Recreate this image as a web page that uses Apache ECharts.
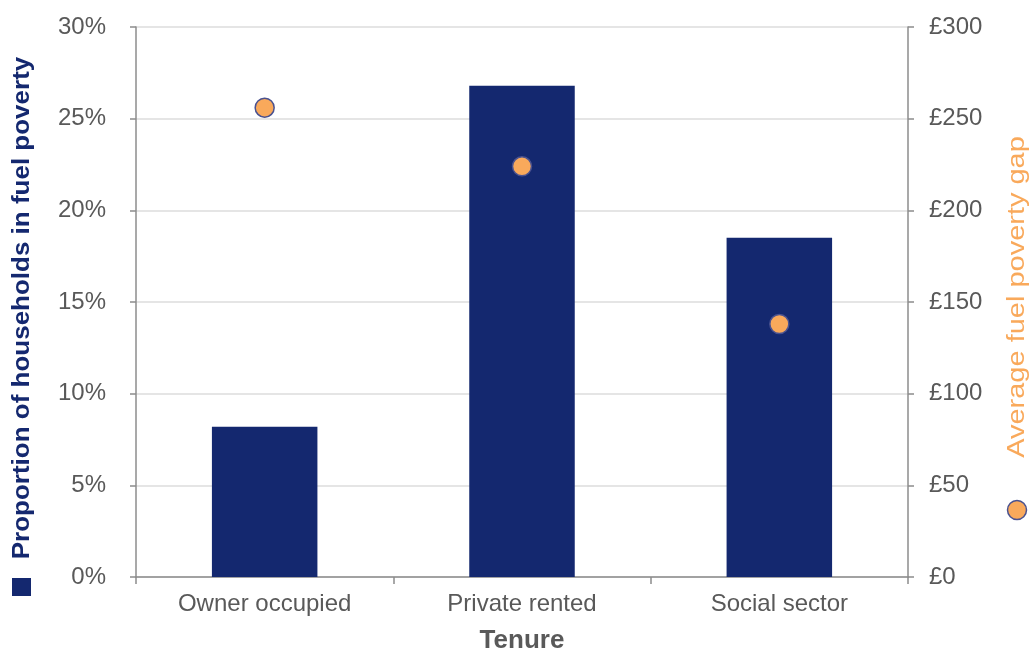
<!DOCTYPE html>
<html>
<head>
<meta charset="utf-8">
<script src="https://cdn.jsdelivr.net/npm/echarts@6/dist/echarts.min.js"></script>
<style>
  html, body { margin: 0; padding: 0; background: #fff; }
  #chart { width: 1030px; height: 652px; }
</style>
</head>
<body>
<div id="chart"></div>
<script>
// Fuel poverty by tenure
const categories = ['Owner occupied', 'Private rented', 'Social sector'];
const shareInFuelPoverty = [8.2, 26.8, 18.5];      // % of households
const averageGap = [256, 224, 138];                  // £ per household
const leftTicks = ['0%', '5%', '10%', '15%', '20%', '25%', '30%'];
const rightTicks = ['£0', '£50', '£100', '£150', '£200', '£250', '£300'];

const NAVY = '#14286f';
const ORANGE = '#f9a95b';
const GREY_TEXT = '#595959';
const AXIS_LINE = '#8c8c8c';
const FONT = 'Liberation Sans, Arial, sans-serif';

const chart = echarts.init(document.getElementById('chart'));

chart.setOption({
  animation: false,
  backgroundColor: '#fff',
  grid: { left: 136, right: 122, top: 27, bottom: 75, containLabel: false, outerBoundsMode: 'none' },
  xAxis: {
    type: 'category',
    data: categories,
    axisLine: { lineStyle: { color: AXIS_LINE, width: 1.5 } },
    axisTick: { show: true, length: 7, lineStyle: { color: AXIS_LINE, width: 1.5 } },
    axisLabel: { color: GREY_TEXT, fontSize: 24, fontFamily: FONT, margin: 15 },
    name: 'Tenure',
    nameLocation: 'middle',
    nameGap: 64,
    nameTextStyle: { color: GREY_TEXT, fontSize: 26, fontWeight: 'bold', fontFamily: FONT, verticalAlign: 'middle' }
  },
  yAxis: [
    {
      type: 'value',
      min: 0, max: 30, interval: 5,
      axisLine: { show: true, lineStyle: { color: AXIS_LINE, width: 1.5 } },
      axisTick: { show: true, inside: false, length: 6, lineStyle: { color: AXIS_LINE, width: 1.5 } },
      axisLabel: {
        color: GREY_TEXT, fontSize: 24, fontFamily: FONT, margin: 30,
        formatter: (v) => leftTicks[Math.round(v / 5)]
      },
      splitLine: { show: true, lineStyle: { color: '#dcdcdc', width: 1.5 } }
    },
    {
      type: 'value',
      min: 0, max: 300, interval: 50,
      position: 'right',
      axisLine: { show: true, lineStyle: { color: AXIS_LINE, width: 1.5 } },
      axisTick: { show: true, inside: false, length: 6, lineStyle: { color: AXIS_LINE, width: 1.5 } },
      axisLabel: {
        color: GREY_TEXT, fontSize: 24, fontFamily: FONT, margin: 21,
        formatter: (v) => rightTicks[Math.round(v / 50)]
      },
      splitLine: { show: false }
    }
  ],
  series: [
    {
      name: 'Proportion of households in fuel poverty',
      type: 'bar',
      yAxisIndex: 0,
      data: shareInFuelPoverty,
      barWidth: '41%',
      itemStyle: { color: NAVY },
      z: 2
    },
    {
      name: 'Average fuel poverty gap',
      type: 'scatter',
      yAxisIndex: 1,
      data: averageGap,
      symbol: 'circle',
      symbolSize: 19,
      itemStyle: { color: ORANGE, opacity: 1, borderColor: '#4a5290', borderWidth: 1.5 },
      z: 3
    }
  ],
  graphic: [
    // left axis title with its bar key
    {
      type: 'text',
      x: 23, y: 308,
      rotation: Math.PI / 2,
      scaleX: 1.13,
      style: {
        text: 'Proportion of households in fuel poverty',
        fill: NAVY,
        font: 'bold 23px "Liberation Sans", Arial, sans-serif',
        align: 'center',
        verticalAlign: 'middle'
      }
    },
    {
      type: 'rect',
      shape: { x: 12, y: 578, width: 19, height: 18 },
      style: { fill: NAVY }
    },
    // right axis title with its dot key
    {
      type: 'text',
      x: 1018, y: 297,
      rotation: Math.PI / 2,
      scaleX: 1.26,
      style: {
        text: 'Average fuel poverty gap',
        fill: ORANGE,
        font: '23px "Liberation Sans", Arial, sans-serif',
        align: 'center',
        verticalAlign: 'middle'
      }
    },
    {
      type: 'circle',
      shape: { cx: 1017, cy: 510, r: 9.5 },
      style: { fill: ORANGE, stroke: '#4a5290', lineWidth: 1.5 }
    }
  ]
});
</script>
</body>
</html>
